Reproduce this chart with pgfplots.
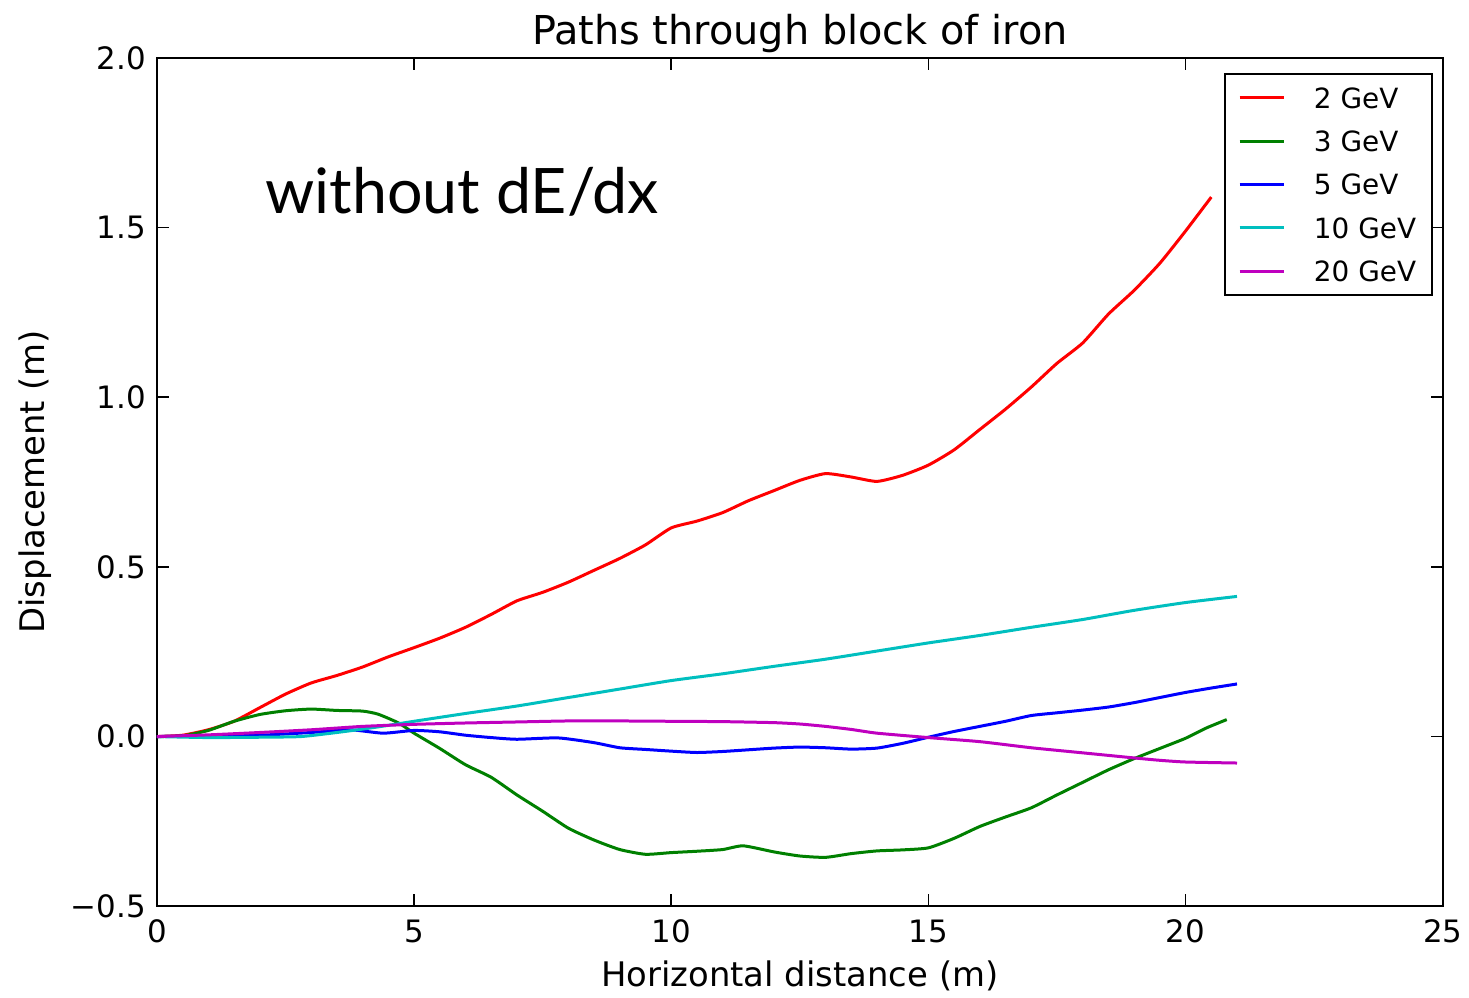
\documentclass[border=0pt]{standalone}
\usepackage{pgfplots}
\pgfplotsset{compat=1.18}
\usepackage{pgfplotstable}
\usepackage{fontspec}
\setmainfont{DejaVu Sans}
\newfontfamily\notefont{Lato}

\definecolor{mplred}{RGB}{255,0,0}
\definecolor{mplgreen}{RGB}{0,128,0}
\definecolor{mplblue}{RGB}{0,0,255}
\definecolor{mplcyan}{RGB}{0,191,191}
\definecolor{mplmagenta}{RGB}{191,0,191}

% x: horizontal distance (m), y: displacement (m)
\pgfplotstableread{
x y
0 0
0.5 0.004
1 0.02
1.5 0.045
2 0.085
2.5 0.125
3 0.158
3.5 0.18
4 0.205
4.5 0.235
5 0.262
5.5 0.29
6 0.322
6.5 0.36
7 0.40
7.5 0.425
8 0.455
8.5 0.49
9 0.525
9.5 0.565
10 0.615
10.5 0.635
11 0.66
11.5 0.695
12 0.725
12.5 0.755
13 0.775
13.5 0.765
14 0.752
14.5 0.77
15 0.80
15.5 0.845
16 0.905
16.5 0.965
17 1.03
17.5 1.10
18 1.16
18.5 1.245
19 1.315
19.5 1.395
20 1.49
20.5 1.59
}\gevtwo

\pgfplotstableread{
x y
0 0
0.5 0.002
1 0.018
1.5 0.045
2 0.065
2.5 0.076
3 0.081
3.5 0.077
4 0.075
4.3 0.066
4.7 0.04
5 0.01
5.5 -0.035
6 -0.083
6.5 -0.12
7 -0.172
7.5 -0.22
8 -0.27
8.5 -0.305
9 -0.333
9.5 -0.347
10 -0.342
10.5 -0.338
11 -0.333
11.4 -0.322
12 -0.34
12.5 -0.352
13 -0.356
13.5 -0.345
14 -0.337
14.5 -0.334
15 -0.328
15.5 -0.30
16 -0.265
16.5 -0.237
17 -0.21
17.5 -0.172
18 -0.135
18.5 -0.098
19 -0.065
19.5 -0.035
20 -0.005
20.4 0.025
20.8 0.05
}\gevthree

\pgfplotstableread{
x y
0 0
1 0.002
2 0.004
3 0.012
3.75 0.02
4.4 0.01
5 0.018
5.5 0.014
6 0.004
6.5 -0.003
7 -0.008
7.8 -0.004
8.5 -0.018
9 -0.033
9.5 -0.038
10 -0.043
10.5 -0.047
11 -0.044
11.5 -0.039
12 -0.034
12.5 -0.031
13 -0.033
13.5 -0.037
14 -0.034
14.5 -0.02
15 -0.002
15.5 0.015
16 0.03
16.5 0.045
17 0.062
17.5 0.07
18 0.078
18.5 0.087
19 0.1
19.5 0.115
20 0.13
20.5 0.143
21 0.155
}\gevfive

\pgfplotstableread{
x y
0 0
1 -0.003
2 -0.002
2.8 0.0
3.5 0.012
4 0.022
4.5 0.033
5 0.045
6 0.068
7 0.09
8 0.115
9 0.14
10 0.165
11 0.185
12 0.207
13 0.228
14 0.252
15 0.276
16 0.298
17 0.322
18 0.345
19 0.372
20 0.395
21 0.413
}\gevten

\pgfplotstableread{
x y
0 0
1 0.005
2 0.012
3 0.02
4 0.03
5 0.036
6 0.04
7 0.043
8 0.046
9 0.046
10 0.045
11 0.044
12 0.041
12.5 0.037
13 0.03
13.5 0.021
14 0.01
15 -0.003
16 -0.015
17 -0.033
18 -0.048
19 -0.063
19.5 -0.07
20 -0.075
21 -0.078
}\gevtwenty

\begin{document}
\begin{tikzpicture}
\begin{axis}[
  name=ax,
  scale only axis,
  width=643.5bp, height=424.5bp,
  xmin=0, xmax=25, ymin=-0.5, ymax=2.0,
  axis line style={line width=1.2bp, black},
  tick style={line width=0.8bp, black},
  major tick length=6bp,
  xtick={0,5,10,15,20,25},
  xticklabels={0,5,10,15,20,25},
  ytick={-0.5,0,0.5,1,1.5,2},
  yticklabels={−0.5,0.0,0.5,1.0,1.5,2.0},
  minor tick num=0,
  tick label style={font=\fontsize{15.5}{18}\selectfont},
  xticklabel style={anchor=base, yshift=-18bp},
  yticklabel style={anchor=east, xshift=-2bp},
  title={Paths through block of iron},
  every axis title shift=0pt,
  title style={font=\fontsize{20}{24}\selectfont, at={(axis description cs:0.5,1.0153)}, anchor=base, yshift=0pt},
  xlabel={Horizontal distance (m)},
  xlabel style={font=\fontsize{17}{20}\selectfont, at={(axis description cs:0.5,-0.0942)}, anchor=base},
  ylabel={Displacement (m)},
  ylabel style={font=\fontsize{17}{20}\selectfont, at={(axis description cs:-0.087,0.5)}, anchor=base},
  legend style={
    at={(axis description cs:0.9925,0.982)}, anchor=north east,
    draw=black, line width=1bp,
    font=\fontsize{14}{16}\selectfont,
    inner xsep=6.5bp, inner ysep=5bp,
    row sep=8.2bp,
    nodes={inner sep=1.5bp, text height=10.5bp, text depth=0bp},
  },
  legend cell align=left,
  legend image code/.code={\draw[#1] (0bp,0bp) -- (22bp,0bp);},
  every axis plot/.append style={line width=1.5bp, line join=round, smooth, tension=0.35},
]
\addplot[mplred] table[x=x,y=y] {\gevtwo};
\addlegendentry{\hspace{13bp}2 GeV}
\addplot[mplgreen] table[x=x,y=y] {\gevthree};
\addlegendentry{\hspace{13bp}3 GeV}
\addplot[mplblue] table[x=x,y=y] {\gevfive};
\addlegendentry{\hspace{13bp}5 GeV}
\addplot[mplcyan] table[x=x,y=y] {\gevten};
\addlegendentry{\hspace{13bp}10 GeV}
\addplot[mplmagenta] table[x=x,y=y] {\gevtwenty};
\addlegendentry{\hspace{13bp}20 GeV}

\node[anchor=base west, inner sep=0, font=\notefont\fontsize{31.5}{36}\selectfont]
  at (axis description cs:0.084,0.817) {without dE/dx};
\end{axis}
\path[use as bounding box] ([shift={(-78.5bp,-44.5bp)}]ax.south west)
  rectangle ([shift={(12.5bp,29bp)}]ax.north east);
\end{tikzpicture}
\end{document}
